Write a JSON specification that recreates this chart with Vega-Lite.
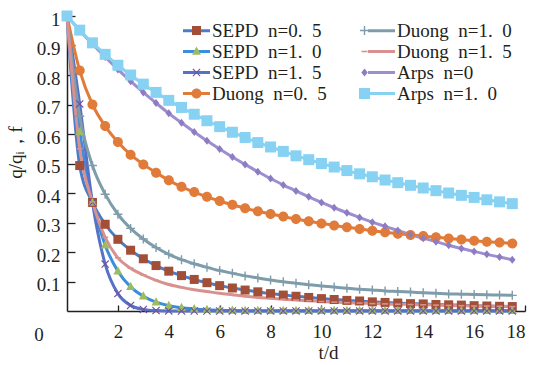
{
  "$schema": "https://vega.github.io/schema/vega-lite/v6.json",
  "width": 458,
  "height": 295,
  "autosize": "none",
  "padding": {"left": 67, "top": 16, "right": 13, "bottom": 54},
  "background": "white",
  "config": {"view": {"stroke": null}, "font": "Liberation Serif, DejaVu Serif, serif", "axis": {"labelOverlap": false}},
  "datasets": {
    "curves": [
      {"s":"SEPD n=0. 5","t":0,"q":1},{"s":"SEPD n=0. 5","t":0.5,"q":0.493},{"s":"SEPD n=0. 5","t":1,"q":0.368},{"s":"SEPD n=0. 5","t":1.5,"q":0.294},{"s":"SEPD n=0. 5","t":2,"q":0.243},{"s":"SEPD n=0. 5","t":2.5,"q":0.206},{"s":"SEPD n=0. 5","t":3,"q":0.177},{"s":"SEPD n=0. 5","t":3.5,"q":0.154},{"s":"SEPD n=0. 5","t":4,"q":0.135},{"s":"SEPD n=0. 5","t":4.5,"q":0.12},{"s":"SEPD n=0. 5","t":5,"q":0.107},{"s":"SEPD n=0. 5","t":5.5,"q":0.096},{"s":"SEPD n=0. 5","t":6,"q":0.086},{"s":"SEPD n=0. 5","t":6.5,"q":0.078},{"s":"SEPD n=0. 5","t":7,"q":0.071},{"s":"SEPD n=0. 5","t":7.5,"q":0.065},{"s":"SEPD n=0. 5","t":8,"q":0.059},{"s":"SEPD n=0. 5","t":8.5,"q":0.054},{"s":"SEPD n=0. 5","t":9,"q":0.05},{"s":"SEPD n=0. 5","t":9.5,"q":0.046},{"s":"SEPD n=0. 5","t":10,"q":0.042},{"s":"SEPD n=0. 5","t":10.5,"q":0.039},{"s":"SEPD n=0. 5","t":11,"q":0.036},{"s":"SEPD n=0. 5","t":11.5,"q":0.034},{"s":"SEPD n=0. 5","t":12,"q":0.031},{"s":"SEPD n=0. 5","t":12.5,"q":0.029},{"s":"SEPD n=0. 5","t":13,"q":0.027},{"s":"SEPD n=0. 5","t":13.5,"q":0.025},{"s":"SEPD n=0. 5","t":14,"q":0.024},{"s":"SEPD n=0. 5","t":14.5,"q":0.022},{"s":"SEPD n=0. 5","t":15,"q":0.021},{"s":"SEPD n=0. 5","t":15.5,"q":0.02},{"s":"SEPD n=0. 5","t":16,"q":0.018},{"s":"SEPD n=0. 5","t":16.5,"q":0.017},{"s":"SEPD n=0. 5","t":17,"q":0.016},{"s":"SEPD n=0. 5","t":17.5,"q":0.015},

      {"s":"SEPD n=1. 0","t":0,"q":1},{"s":"SEPD n=1. 0","t":0.5,"q":0.607},{"s":"SEPD n=1. 0","t":1,"q":0.368},{"s":"SEPD n=1. 0","t":1.5,"q":0.223},{"s":"SEPD n=1. 0","t":2,"q":0.135},{"s":"SEPD n=1. 0","t":2.5,"q":0.082},{"s":"SEPD n=1. 0","t":3,"q":0.05},{"s":"SEPD n=1. 0","t":3.5,"q":0.03},{"s":"SEPD n=1. 0","t":4,"q":0.018},{"s":"SEPD n=1. 0","t":4.5,"q":0.011},{"s":"SEPD n=1. 0","t":5,"q":0.007},{"s":"SEPD n=1. 0","t":5.5,"q":0.004},{"s":"SEPD n=1. 0","t":6,"q":0.0025},{"s":"SEPD n=1. 0","t":6.5,"q":0.0015},{"s":"SEPD n=1. 0","t":7,"q":0.001},{"s":"SEPD n=1. 0","t":7.5,"q":0.001},{"s":"SEPD n=1. 0","t":8,"q":0.001},{"s":"SEPD n=1. 0","t":8.5,"q":0.001},{"s":"SEPD n=1. 0","t":9,"q":0.001},{"s":"SEPD n=1. 0","t":9.5,"q":0.001},{"s":"SEPD n=1. 0","t":10,"q":0.001},{"s":"SEPD n=1. 0","t":10.5,"q":0.001},{"s":"SEPD n=1. 0","t":11,"q":0.001},{"s":"SEPD n=1. 0","t":11.5,"q":0.001},{"s":"SEPD n=1. 0","t":12,"q":0.001},{"s":"SEPD n=1. 0","t":12.5,"q":0.001},{"s":"SEPD n=1. 0","t":13,"q":0.001},{"s":"SEPD n=1. 0","t":13.5,"q":0.001},{"s":"SEPD n=1. 0","t":14,"q":0.001},{"s":"SEPD n=1. 0","t":14.5,"q":0.001},{"s":"SEPD n=1. 0","t":15,"q":0.001},{"s":"SEPD n=1. 0","t":15.5,"q":0.001},{"s":"SEPD n=1. 0","t":16,"q":0.001},{"s":"SEPD n=1. 0","t":16.5,"q":0.001},{"s":"SEPD n=1. 0","t":17,"q":0.001},{"s":"SEPD n=1. 0","t":17.5,"q":0.001},

      {"s":"SEPD n=1. 5","t":0,"q":1},{"s":"SEPD n=1. 5","t":0.5,"q":0.702},{"s":"SEPD n=1. 5","t":1,"q":0.368},{"s":"SEPD n=1. 5","t":1.5,"q":0.159},{"s":"SEPD n=1. 5","t":2,"q":0.059},{"s":"SEPD n=1. 5","t":2.5,"q":0.019},{"s":"SEPD n=1. 5","t":3,"q":0.0055},{"s":"SEPD n=1. 5","t":3.5,"q":0.0014},{"s":"SEPD n=1. 5","t":4,"q":0.0003},{"s":"SEPD n=1. 5","t":4.5,"q":0},{"s":"SEPD n=1. 5","t":5,"q":0},{"s":"SEPD n=1. 5","t":5.5,"q":0},{"s":"SEPD n=1. 5","t":6,"q":0},{"s":"SEPD n=1. 5","t":6.5,"q":0},{"s":"SEPD n=1. 5","t":7,"q":0},{"s":"SEPD n=1. 5","t":7.5,"q":0},{"s":"SEPD n=1. 5","t":8,"q":0},{"s":"SEPD n=1. 5","t":8.5,"q":0},{"s":"SEPD n=1. 5","t":9,"q":0},{"s":"SEPD n=1. 5","t":9.5,"q":0},{"s":"SEPD n=1. 5","t":10,"q":0},{"s":"SEPD n=1. 5","t":10.5,"q":0},{"s":"SEPD n=1. 5","t":11,"q":0},{"s":"SEPD n=1. 5","t":11.5,"q":0},{"s":"SEPD n=1. 5","t":12,"q":0},{"s":"SEPD n=1. 5","t":12.5,"q":0},{"s":"SEPD n=1. 5","t":13,"q":0},{"s":"SEPD n=1. 5","t":13.5,"q":0},{"s":"SEPD n=1. 5","t":14,"q":0},{"s":"SEPD n=1. 5","t":14.5,"q":0},{"s":"SEPD n=1. 5","t":15,"q":0},{"s":"SEPD n=1. 5","t":15.5,"q":0},{"s":"SEPD n=1. 5","t":16,"q":0},{"s":"SEPD n=1. 5","t":16.5,"q":0},{"s":"SEPD n=1. 5","t":17,"q":0},{"s":"SEPD n=1. 5","t":17.5,"q":0},

      {"s":"Duong n=0. 5","t":0,"q":1},{"s":"Duong n=0. 5","t":0.5,"q":0.815},{"s":"Duong n=0. 5","t":1,"q":0.7},{"s":"Duong n=0. 5","t":1.5,"q":0.627},{"s":"Duong n=0. 5","t":2,"q":0.573},{"s":"Duong n=0. 5","t":2.5,"q":0.53},{"s":"Duong n=0. 5","t":3,"q":0.497},{"s":"Duong n=0. 5","t":3.5,"q":0.469},{"s":"Duong n=0. 5","t":4,"q":0.443},{"s":"Duong n=0. 5","t":4.5,"q":0.421},{"s":"Duong n=0. 5","t":5,"q":0.403},{"s":"Duong n=0. 5","t":5.5,"q":0.387},{"s":"Duong n=0. 5","t":6,"q":0.373},{"s":"Duong n=0. 5","t":6.5,"q":0.36},{"s":"Duong n=0. 5","t":7,"q":0.348},{"s":"Duong n=0. 5","t":7.5,"q":0.338},{"s":"Duong n=0. 5","t":8,"q":0.329},{"s":"Duong n=0. 5","t":8.5,"q":0.32},{"s":"Duong n=0. 5","t":9,"q":0.312},{"s":"Duong n=0. 5","t":9.5,"q":0.304},{"s":"Duong n=0. 5","t":10,"q":0.297},{"s":"Duong n=0. 5","t":10.5,"q":0.29},{"s":"Duong n=0. 5","t":11,"q":0.284},{"s":"Duong n=0. 5","t":11.5,"q":0.278},{"s":"Duong n=0. 5","t":12,"q":0.272},{"s":"Duong n=0. 5","t":12.5,"q":0.267},{"s":"Duong n=0. 5","t":13,"q":0.262},{"s":"Duong n=0. 5","t":13.5,"q":0.258},{"s":"Duong n=0. 5","t":14,"q":0.254},{"s":"Duong n=0. 5","t":14.5,"q":0.25},{"s":"Duong n=0. 5","t":15,"q":0.246},{"s":"Duong n=0. 5","t":15.5,"q":0.242},{"s":"Duong n=0. 5","t":16,"q":0.238},{"s":"Duong n=0. 5","t":16.5,"q":0.235},{"s":"Duong n=0. 5","t":17,"q":0.232},{"s":"Duong n=0. 5","t":17.5,"q":0.229},

      {"s":"Duong n=1. 0","t":0,"q":1},{"s":"Duong n=1. 0","t":0.5,"q":0.66},{"s":"Duong n=1. 0","t":1,"q":0.493},{"s":"Duong n=1. 0","t":1.5,"q":0.396},{"s":"Duong n=1. 0","t":2,"q":0.328},{"s":"Duong n=1. 0","t":2.5,"q":0.28},{"s":"Duong n=1. 0","t":3,"q":0.244},{"s":"Duong n=1. 0","t":3.5,"q":0.215},{"s":"Duong n=1. 0","t":4,"q":0.192},{"s":"Duong n=1. 0","t":4.5,"q":0.174},{"s":"Duong n=1. 0","t":5,"q":0.16},{"s":"Duong n=1. 0","t":5.5,"q":0.148},{"s":"Duong n=1. 0","t":6,"q":0.137},{"s":"Duong n=1. 0","t":6.5,"q":0.128},{"s":"Duong n=1. 0","t":7,"q":0.119},{"s":"Duong n=1. 0","t":7.5,"q":0.112},{"s":"Duong n=1. 0","t":8,"q":0.105},{"s":"Duong n=1. 0","t":8.5,"q":0.099},{"s":"Duong n=1. 0","t":9,"q":0.094},{"s":"Duong n=1. 0","t":9.5,"q":0.089},{"s":"Duong n=1. 0","t":10,"q":0.085},{"s":"Duong n=1. 0","t":10.5,"q":0.081},{"s":"Duong n=1. 0","t":11,"q":0.077},{"s":"Duong n=1. 0","t":11.5,"q":0.074},{"s":"Duong n=1. 0","t":12,"q":0.071},{"s":"Duong n=1. 0","t":12.5,"q":0.068},{"s":"Duong n=1. 0","t":13,"q":0.066},{"s":"Duong n=1. 0","t":13.5,"q":0.064},{"s":"Duong n=1. 0","t":14,"q":0.062},{"s":"Duong n=1. 0","t":14.5,"q":0.06},{"s":"Duong n=1. 0","t":15,"q":0.058},{"s":"Duong n=1. 0","t":15.5,"q":0.057},{"s":"Duong n=1. 0","t":16,"q":0.056},{"s":"Duong n=1. 0","t":16.5,"q":0.055},{"s":"Duong n=1. 0","t":17,"q":0.054},{"s":"Duong n=1. 0","t":17.5,"q":0.053},

      {"s":"Duong n=1. 5","t":0,"q":1},{"s":"Duong n=1. 5","t":0.5,"q":0.55},{"s":"Duong n=1. 5","t":1,"q":0.37},{"s":"Duong n=1. 5","t":1.5,"q":0.25},{"s":"Duong n=1. 5","t":2,"q":0.18},{"s":"Duong n=1. 5","t":2.5,"q":0.145},{"s":"Duong n=1. 5","t":3,"q":0.122},{"s":"Duong n=1. 5","t":3.5,"q":0.104},{"s":"Duong n=1. 5","t":4,"q":0.09},{"s":"Duong n=1. 5","t":4.5,"q":0.08},{"s":"Duong n=1. 5","t":5,"q":0.072},{"s":"Duong n=1. 5","t":5.5,"q":0.066},{"s":"Duong n=1. 5","t":6,"q":0.06},{"s":"Duong n=1. 5","t":6.5,"q":0.055},{"s":"Duong n=1. 5","t":7,"q":0.05},{"s":"Duong n=1. 5","t":7.5,"q":0.046},{"s":"Duong n=1. 5","t":8,"q":0.043},{"s":"Duong n=1. 5","t":8.5,"q":0.04},{"s":"Duong n=1. 5","t":9,"q":0.037},{"s":"Duong n=1. 5","t":9.5,"q":0.035},{"s":"Duong n=1. 5","t":10,"q":0.032},{"s":"Duong n=1. 5","t":10.5,"q":0.03},{"s":"Duong n=1. 5","t":11,"q":0.028},{"s":"Duong n=1. 5","t":11.5,"q":0.027},{"s":"Duong n=1. 5","t":12,"q":0.025},{"s":"Duong n=1. 5","t":12.5,"q":0.024},{"s":"Duong n=1. 5","t":13,"q":0.023},{"s":"Duong n=1. 5","t":13.5,"q":0.022},{"s":"Duong n=1. 5","t":14,"q":0.021},{"s":"Duong n=1. 5","t":14.5,"q":0.02},{"s":"Duong n=1. 5","t":15,"q":0.019},{"s":"Duong n=1. 5","t":15.5,"q":0.018},{"s":"Duong n=1. 5","t":16,"q":0.017},{"s":"Duong n=1. 5","t":16.5,"q":0.017},{"s":"Duong n=1. 5","t":17,"q":0.016},{"s":"Duong n=1. 5","t":17.5,"q":0.015},

      {"s":"Arps n=0","t":0,"q":1},{"s":"Arps n=0","t":0.5,"q":0.951},{"s":"Arps n=0","t":1,"q":0.905},{"s":"Arps n=0","t":1.5,"q":0.861},{"s":"Arps n=0","t":2,"q":0.819},{"s":"Arps n=0","t":2.5,"q":0.779},{"s":"Arps n=0","t":3,"q":0.741},{"s":"Arps n=0","t":3.5,"q":0.705},{"s":"Arps n=0","t":4,"q":0.67},{"s":"Arps n=0","t":4.5,"q":0.638},{"s":"Arps n=0","t":5,"q":0.607},{"s":"Arps n=0","t":5.5,"q":0.577},{"s":"Arps n=0","t":6,"q":0.549},{"s":"Arps n=0","t":6.5,"q":0.522},{"s":"Arps n=0","t":7,"q":0.497},{"s":"Arps n=0","t":7.5,"q":0.472},{"s":"Arps n=0","t":8,"q":0.449},{"s":"Arps n=0","t":8.5,"q":0.427},{"s":"Arps n=0","t":9,"q":0.407},{"s":"Arps n=0","t":9.5,"q":0.387},{"s":"Arps n=0","t":10,"q":0.368},{"s":"Arps n=0","t":10.5,"q":0.35},{"s":"Arps n=0","t":11,"q":0.333},{"s":"Arps n=0","t":11.5,"q":0.317},{"s":"Arps n=0","t":12,"q":0.301},{"s":"Arps n=0","t":12.5,"q":0.287},{"s":"Arps n=0","t":13,"q":0.273},{"s":"Arps n=0","t":13.5,"q":0.259},{"s":"Arps n=0","t":14,"q":0.247},{"s":"Arps n=0","t":14.5,"q":0.235},{"s":"Arps n=0","t":15,"q":0.223},{"s":"Arps n=0","t":15.5,"q":0.212},{"s":"Arps n=0","t":16,"q":0.202},{"s":"Arps n=0","t":16.5,"q":0.192},{"s":"Arps n=0","t":17,"q":0.183},{"s":"Arps n=0","t":17.5,"q":0.174},

      {"s":"Arps n=1. 0","t":0,"q":1},{"s":"Arps n=1. 0","t":0.5,"q":0.952},{"s":"Arps n=1. 0","t":1,"q":0.909},{"s":"Arps n=1. 0","t":1.5,"q":0.87},{"s":"Arps n=1. 0","t":2,"q":0.833},{"s":"Arps n=1. 0","t":2.5,"q":0.8},{"s":"Arps n=1. 0","t":3,"q":0.769},{"s":"Arps n=1. 0","t":3.5,"q":0.741},{"s":"Arps n=1. 0","t":4,"q":0.714},{"s":"Arps n=1. 0","t":4.5,"q":0.69},{"s":"Arps n=1. 0","t":5,"q":0.667},{"s":"Arps n=1. 0","t":5.5,"q":0.645},{"s":"Arps n=1. 0","t":6,"q":0.625},{"s":"Arps n=1. 0","t":6.5,"q":0.606},{"s":"Arps n=1. 0","t":7,"q":0.588},{"s":"Arps n=1. 0","t":7.5,"q":0.571},{"s":"Arps n=1. 0","t":8,"q":0.556},{"s":"Arps n=1. 0","t":8.5,"q":0.541},{"s":"Arps n=1. 0","t":9,"q":0.526},{"s":"Arps n=1. 0","t":9.5,"q":0.513},{"s":"Arps n=1. 0","t":10,"q":0.5},{"s":"Arps n=1. 0","t":10.5,"q":0.488},{"s":"Arps n=1. 0","t":11,"q":0.476},{"s":"Arps n=1. 0","t":11.5,"q":0.465},{"s":"Arps n=1. 0","t":12,"q":0.455},{"s":"Arps n=1. 0","t":12.5,"q":0.444},{"s":"Arps n=1. 0","t":13,"q":0.435},{"s":"Arps n=1. 0","t":13.5,"q":0.426},{"s":"Arps n=1. 0","t":14,"q":0.417},{"s":"Arps n=1. 0","t":14.5,"q":0.408},{"s":"Arps n=1. 0","t":15,"q":0.4},{"s":"Arps n=1. 0","t":15.5,"q":0.392},{"s":"Arps n=1. 0","t":16,"q":0.385},{"s":"Arps n=1. 0","t":16.5,"q":0.377},{"s":"Arps n=1. 0","t":17,"q":0.37},{"s":"Arps n=1. 0","t":17.5,"q":0.364}
    ],
    "origin": [{"t": 0, "q": 0, "label": "0"}]
  },
  "encoding": {
    "x": {"field": "t", "type": "quantitative",
      "scale": {"domain": [0, 18], "nice": false, "zero": false},
      "axis": {
        "values": [2, 4, 6, 8, 10, 12, 14, 16, 18],
        "grid": false, "tickSize": -6, "tickColor": "#231f20", "tickWidth": 1.3,
        "domainColor": "#231f20", "domainWidth": 1.5, "labelOverlap": false,
        "labelFont": "Liberation Serif, DejaVu Serif, serif", "labelFontSize": 19, "labelColor": "#231f20", "labelPadding": 17,
        "title": "t/d", "titleFont": "Liberation Serif, DejaVu Serif, serif", "titleFontSize": 19, "titleFontWeight": "normal", "titleColor": "#231f20",
        "titleX": 261, "titleY": 41, "titleBaseline": "middle", "titleAnchor": "middle"
      }
    },
    "y": {"field": "q", "type": "quantitative",
      "scale": {"domain": [0, 1], "nice": false},
      "axis": {
        "values": [0.1, 0.2, 0.3, 0.4, 0.5, 0.6, 0.7, 0.8, 0.9, 1],
        "labelExpr": "datum.value >= 0.999 ? '1' : format(datum.value, '.1f')",
        "grid": false, "tickSize": -8, "tickColor": "#231f20", "tickWidth": 1.3,
        "domainColor": "#231f20", "domainWidth": 1.5, "labelOverlap": false, "labelBound": false, "labelSeparation": 0, "labelFlush": false,
        "labelFont": "Liberation Serif, DejaVu Serif, serif", "labelFontSize": 19, "labelColor": "#231f20", "labelPadding": 15, "labelBaseline": "middle", "labelOffset": 3,
        "title": "q/qᵢ，f", "titleFont": "Liberation Serif, DejaVu Serif, serif", "titleFontSize": 19, "titleFontWeight": "normal", "titleColor": "#231f20",
        "titleX": -52, "titleY": 136, "titleBaseline": "middle", "titleAnchor": "middle", "titleAngle": -90
      }
    }
  },
  "layer": [
    {
      "data": {"name": "curves"},
      "mark": {"type": "line", "interpolate": "monotone", "strokeWidth": 3},
      "encoding": {
        "detail": {"field": "s"},
        "color": {"field": "s", "type": "nominal",
          "sort": ["SEPD n=0. 5", "SEPD n=1. 0", "SEPD n=1. 5", "Duong n=0. 5", "Duong n=1. 0", "Duong n=1. 5", "Arps n=0", "Arps n=1. 0"],
          "scale": {
            "range": ["#4a7cc9", "#3a8edb", "#5672c8", "#e07b39", "#7f9cab", "#d9918f", "#9c8fd0", "#87d2f3"]
          },
          "legend": {
            "orient": "none", "legendX": 119, "legendY": 4, "columns": 2, "columnPadding": 35, "rowPadding": 0,
            "title": null, "padding": 0,
            "symbolType": "M-1.5,0H1.5", "symbolSize": 324, "symbolStrokeWidth": 3,
            "labelFont": "Liberation Serif, DejaVu Serif, serif", "labelFontSize": 19, "labelColor": "#231f20", "labelOffset": 5, "labelLimit": 300,
            "labelExpr": "replace(replace(datum.label, ' n', '\u2002n'), '. ', '.\u2002')"
          }
        }
      }
    },
    {
      "data": {"name": "curves"},
      "mark": {"type": "point", "filled": true, "size": 400, "strokeWidth": 0, "opacity": 1},
      "encoding": {
        "fill": {"field": "s", "type": "nominal",
          "scale": {
            "domain": ["SEPD n=0. 5", "SEPD n=1. 0", "SEPD n=1. 5", "Duong n=0. 5", "Duong n=1. 0", "Duong n=1. 5", "Arps n=0", "Arps n=1. 0"],
            "range": ["#a34e36", "#9dbb61", "#6e559e", "#e07b39", "#7f9cab", "#d9918f", "#8e7cc3", "#87d2f3"]
          },
          "legend": {
            "orient": "none", "legendX": 119.5, "legendY": 4.5, "columns": 2, "columnPadding": 142, "rowPadding": 1,
            "title": null, "padding": 0, "symbolSize": 400, "symbolStrokeWidth": 0, "symbolOpacity": 1,
            "labelFont": "Liberation Serif, DejaVu Serif, serif", "labelFontSize": 19, "labelExpr": "' '", "labelOffset": 6
          }
        },
        "shape": {"field": "s", "type": "nominal",
          "scale": {
            "domain": ["SEPD n=0. 5", "SEPD n=1. 0", "SEPD n=1. 5", "Duong n=0. 5", "Duong n=1. 0", "Duong n=1. 5", "Arps n=0", "Arps n=1. 0"],
            "range": [
              "M-0.45,-0.45H0.45V0.45H-0.45Z",
              "M0,-0.5L0.45,0.33H-0.45Z",
              "M-0.4,-0.32L-0.32,-0.4L0,-0.08L0.32,-0.4L0.4,-0.32L0.08,0L0.4,0.32L0.32,0.4L0,0.08L-0.32,0.4L-0.4,0.32L-0.08,0Z",
              "M0.5,0A0.5,0.5,0,1,1,-0.5,0A0.5,0.5,0,1,1,0.5,0Z",
              "M-0.07,-0.45H0.07V-0.07H0.45V0.07H0.07V0.45H-0.07V0.07H-0.45V-0.07H-0.07Z",
              "M-0.3,-0.08H0.3V0.08H-0.3Z",
              "M0,-0.4L0.32,0L0,0.4L-0.32,0Z",
              "M-0.55,-0.55H0.55V0.55H-0.55Z"
            ]
          },
          "legend": {
            "orient": "none", "legendX": 119.5, "legendY": 4.5, "columns": 2, "columnPadding": 142, "rowPadding": 1,
            "title": null, "padding": 0, "symbolSize": 400, "symbolStrokeWidth": 0, "symbolOpacity": 1,
            "labelFont": "Liberation Serif, DejaVu Serif, serif", "labelFontSize": 19, "labelExpr": "' '", "labelOffset": 6
          }
        }
      }
    },
    {
      "data": {"name": "origin"},
      "mark": {"type": "text", "font": "Liberation Serif, DejaVu Serif, serif", "fontSize": 19, "color": "#231f20", "dx": -28, "dy": 24, "align": "center", "baseline": "middle"},
      "encoding": {
        "text": {"field": "label"}
      }
    }
  ]
}
